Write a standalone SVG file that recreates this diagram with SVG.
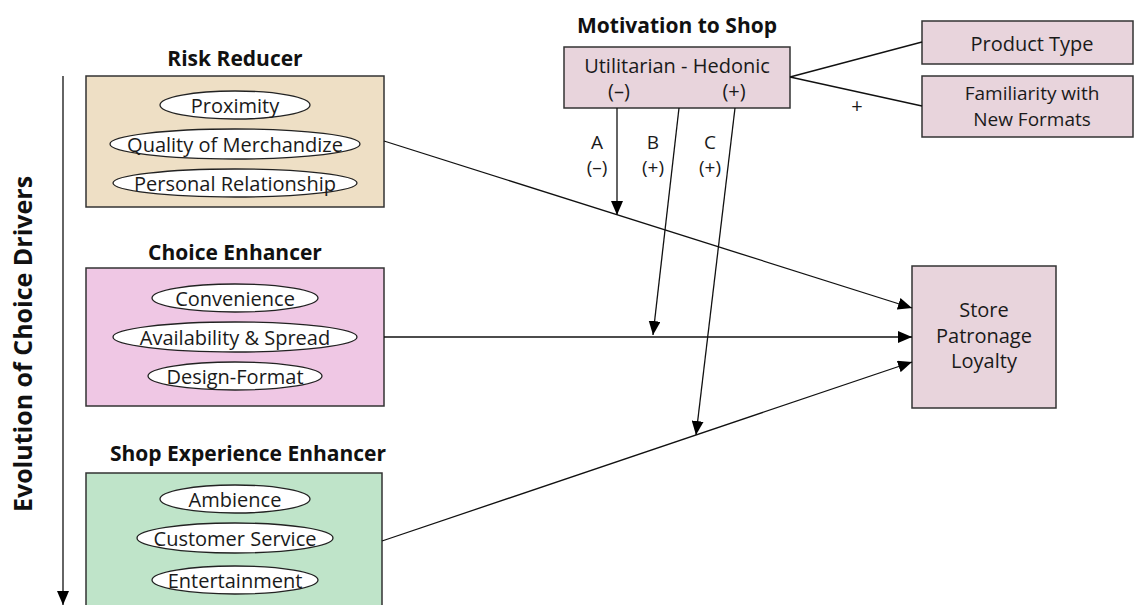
<svg xmlns="http://www.w3.org/2000/svg" width="1134" height="605" viewBox="0 0 1134 605">
<style>
.t{font-family:"Open Sans","Liberation Sans",sans-serif;font-size:20px;fill:#1a1a1a;text-anchor:middle;dominant-baseline:central}
.s{font-family:"Open Sans","Liberation Sans",sans-serif;font-size:19px;fill:#1a1a1a;text-anchor:middle;dominant-baseline:central}
.h{font-family:"Open Sans","Liberation Sans",sans-serif;font-size:21px;font-weight:bold;fill:#111;text-anchor:middle;dominant-baseline:central}
.box{stroke:#333;stroke-width:1.5}
.el{fill:#fff;stroke:#222;stroke-width:1.3}
.ln{stroke:#111;stroke-width:1.3;fill:none}
.arr{stroke:#111;stroke-width:1.3;fill:none;marker-end:url(#ah)}
</style>
<defs>
<marker id="ah" viewBox="0 0 14 12" refX="14" refY="6" markerWidth="14" markerHeight="12" markerUnits="userSpaceOnUse" orient="auto">
<path d="M0,0 L14,6 L0,12 Z" fill="#000"/>
</marker>
</defs>
<rect width="1134" height="605" fill="#fff"/>

<g id="evolution">
<line class="arr" x1="63" y1="76" x2="63" y2="605"/>
<text class="h" transform="translate(22,344) rotate(-90)" style="font-size:25px">Evolution of Choice Drivers</text>
</g>

<g id="risk-reducer">
<text class="h" x="235" y="58">Risk Reducer</text>
<rect class="box" x="86" y="76" width="298" height="131" fill="#eedfc5"/>
<ellipse class="el" cx="235" cy="105" rx="75" ry="14"/>
<text class="t" x="235" y="105">Proximity</text>
<ellipse class="el" cx="235" cy="144" rx="125" ry="15"/>
<text class="t" x="235" y="144">Quality of Merchandize</text>
<ellipse class="el" cx="235" cy="183" rx="122" ry="14"/>
<text class="t" x="235" y="183">Personal Relationship</text>
</g>

<g id="choice-enhancer">
<text class="h" x="235" y="252">Choice Enhancer</text>
<rect class="box" x="86" y="268" width="298" height="138" fill="#efc7e4"/>
<ellipse class="el" cx="235" cy="298" rx="83" ry="14"/>
<text class="t" x="235" y="298">Convenience</text>
<ellipse class="el" cx="235" cy="337" rx="122" ry="15"/>
<text class="t" x="235" y="337">Availability &amp; Spread</text>
<ellipse class="el" cx="235" cy="376" rx="87" ry="14"/>
<text class="t" x="235" y="376">Design-Format</text>
</g>

<g id="shop-experience-enhancer">
<text class="h" x="248" y="453">Shop Experience Enhancer</text>
<rect class="box" x="86" y="473" width="296" height="140" fill="#bfe4c9"/>
<ellipse class="el" cx="235" cy="499" rx="75" ry="14"/>
<text class="t" x="235" y="499">Ambience</text>
<ellipse class="el" cx="235" cy="538" rx="98" ry="15"/>
<text class="t" x="235" y="538">Customer Service</text>
<ellipse class="el" cx="235" cy="580" rx="83" ry="14"/>
<text class="t" x="235" y="580">Entertainment</text>
</g>

<g id="motivation">
<text class="h" x="677" y="25">Motivation to Shop</text>
<rect class="box" x="564" y="47" width="226" height="61" fill="#e8d4dc"/>
<text class="t" x="677" y="65">Utilitarian - Hedonic</text>
<text class="t" x="619" y="90">(–)</text>
<text class="t" x="734" y="90">(+)</text>
</g>

<g id="product-type">
<rect class="box" x="922" y="21" width="211" height="43" fill="#e8d4dc"/>
<text class="t" x="1032" y="43">Product Type</text>
</g>

<g id="familiarity">
<rect class="box" x="922" y="76" width="211" height="61" fill="#e8d4dc"/>
<text class="s" x="1032" y="93">Familiarity with</text>
<text class="s" x="1032" y="119">New Formats</text>
</g>

<g id="store-patronage">
<rect class="box" x="912" y="266" width="144" height="142" fill="#e8d4dc"/>
<text class="t" x="984" y="309">Store</text>
<text class="t" x="984" y="335">Patronage</text>
<text class="t" x="984" y="360">Loyalty</text>
</g>

<g id="connectors">
<line class="ln" x1="790" y1="77" x2="922" y2="42"/>
<line class="ln" x1="790" y1="77" x2="922" y2="106"/>
<text class="t" x="857" y="105">+</text>
<line class="arr" x1="384" y1="141" x2="912" y2="308"/>
<line class="arr" x1="384" y1="337" x2="912" y2="337"/>
<line class="arr" x1="382" y1="541" x2="912" y2="362"/>
<line class="arr" x1="617" y1="108" x2="617" y2="215"/>
<line class="arr" x1="679" y1="108" x2="653" y2="335"/>
<line class="arr" x1="735" y1="108" x2="696" y2="435"/>
<text class="s" x="597" y="142">A</text>
<text class="s" x="597" y="167">(–)</text>
<text class="s" x="653" y="142">B</text>
<text class="s" x="653" y="167">(+)</text>
<text class="s" x="710" y="142">C</text>
<text class="s" x="710" y="167">(+)</text>
</g>
</svg>
